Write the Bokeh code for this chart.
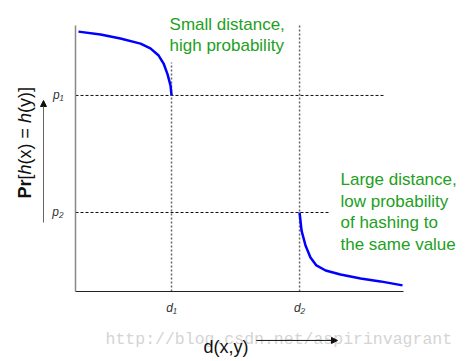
import math
from bokeh.plotting import figure
from bokeh.models import Range1d, FixedTicker, Label, Arrow, NormalHead, LinearAxis
from bokeh.embed import file_html
from bokeh.resources import INLINE

# ---- data ----
curve1_x = [0.09, 0.76, 1.36, 1.97, 2.27, 2.52, 2.67, 2.79, 2.88, 2.91]
curve1_y = [0.977, 0.966, 0.951, 0.932, 0.914, 0.887, 0.857, 0.816, 0.774, 0.737]
curve2_x = [6.79, 6.85, 6.97, 7.12, 7.30, 7.58, 8.03, 8.64, 9.24, 9.91]
curve2_y = [0.297, 0.229, 0.173, 0.128, 0.098, 0.079, 0.064, 0.049, 0.038, 0.023]

d_ticks = [2.91, 6.79]
d_labels = ["d\u2081", "d\u2082"]
p_ticks = [0.737, 0.297]
p_labels = ["p\u2081", "p\u2082"]

# extents of the dotted guide lines
p_line_ends = [9.39, 7.73]
d_line_tops = [0.861, 1.0]

small_text = ["Small distance,", "high probability"]
large_text = ["Large distance,", "low probability", "of hashing to", "the same value"]

GREEN = "#22a022"
FONT = "Liberation Sans"

W, H = 470, 359
X0, XS = 75.0, 33.0      # pixel of x=0, pixels per x unit
Y0, YS = 291.0, 266.0    # pixel of y=0, pixels per y unit

p = figure(width=W, height=H, output_backend="svg", toolbar_location=None,
           x_range=Range1d(-X0 / XS, (W - X0) / XS),
           y_range=Range1d((Y0 - H) / YS, Y0 / YS),
           x_axis_location=None, y_axis_location=None,
           min_border=0, min_border_left=0, min_border_right=0,
           min_border_top=0, min_border_bottom=0)
p.outline_line_color = None
p.grid.visible = False
p.background_fill_color = "white"
p.border_fill_color = "white"

xaxis = LinearAxis(fixed_location=0, bounds=(0, 9.94))
yaxis = LinearAxis(fixed_location=0, bounds=(0, 1))
p.add_layout(xaxis, "below")
p.add_layout(yaxis, "left")

for ax in (xaxis, yaxis):
    ax.major_tick_line_color = None
    ax.minor_tick_line_color = None
    ax.major_tick_out = 0
    ax.major_tick_in = 0
    ax.major_label_text_font = FONT
    ax.major_label_text_font_style = "italic"
    ax.major_label_text_font_size = "12px"
    ax.major_label_text_color = "#333333"

xaxis.ticker = FixedTicker(ticks=d_ticks)
xaxis.major_label_overrides = {t: l for t, l in zip(d_ticks, d_labels)}
xaxis.axis_line_color = "#222222"
xaxis.axis_line_width = 1.2
xaxis.major_label_standoff = 9

yaxis.ticker = FixedTicker(ticks=p_ticks)
yaxis.major_label_overrides = {t: l for t, l in zip(p_ticks, p_labels)}
yaxis.axis_line_color = "#888888"
yaxis.axis_line_width = 1.5
yaxis.major_label_standoff = 12

# dotted guides
for pt, end in zip(p_ticks, p_line_ends):
    p.line([0, end], [pt, pt], line_color="#111111", line_width=1, line_dash="3 2")
for dt, top in zip(d_ticks, d_line_tops):
    p.line([dt, dt], [0, top], line_color="#666666", line_width=1.5, line_dash="2 2")

# curves
p.line(curve1_x, curve1_y, line_color="#0000ff", line_width=2.5)
p.line(curve2_x, curve2_y, line_color="#0000ff", line_width=2.5)

# green annotations
for i, t in enumerate(small_text):
    p.add_layout(Label(x=2.85, y=1.004 - i * 0.079, text=t, text_font=FONT,
                       text_font_size="17px", text_color=GREEN, text_baseline="alphabetic"))
for i, t in enumerate(large_text):
    p.add_layout(Label(x=8.03, y=0.421 - i * 0.081, text=t, text_font=FONT,
                       text_font_size="17px", text_color=GREEN, text_baseline="alphabetic"))

# watermark
p.add_layout(Label(x=0.91, y=-0.180, text="http://blog.csdn.net/aspirinvagrant",
                   text_font="Liberation Mono", text_font_size="16.5px",
                   text_color="#d4d4d4", text_baseline="alphabetic"))

# x axis title with arrow
p.add_layout(Label(x=3.88, y=-0.207, text="d(x,y)", text_font=FONT,
                   text_font_size="18px", text_color="#111111", text_baseline="alphabetic"))
p.add_layout(Arrow(x_start=5.48, y_start=-0.184, x_end=7.94, y_end=-0.184,
                   line_color="#111111", line_width=1,
                   end=NormalHead(size=6, fill_color="#111111", line_color="#111111")))

# y axis title (mixed styles, rotated)
segments = [("Pr", "bold", 19.0), ("[", "normal", 5.0), ("h", "italic", 10.0),
            ("(x) = ", "normal", 41.5), ("h", "italic", 10.0), ("(y)]", "normal", 26.0)]
ypos = (Y0 - 198) / YS
for txt, style, w in segments:
    p.add_layout(Label(x=-1.52, y=ypos, text=txt, angle=math.pi / 2, text_font=FONT,
                       text_font_style=style, text_font_size="18px", text_color="#111111",
                       text_baseline="middle", text_align="left"))
    ypos += w / YS

p.add_layout(Arrow(x_start=-0.97, y_start=0.259, x_end=-0.97, y_end=0.718,
                   line_color="#666666", line_width=1,
                   end=NormalHead(size=6, fill_color="#111111", line_color="#111111")))

open("out.html", "w").write(file_html(p, INLINE))
